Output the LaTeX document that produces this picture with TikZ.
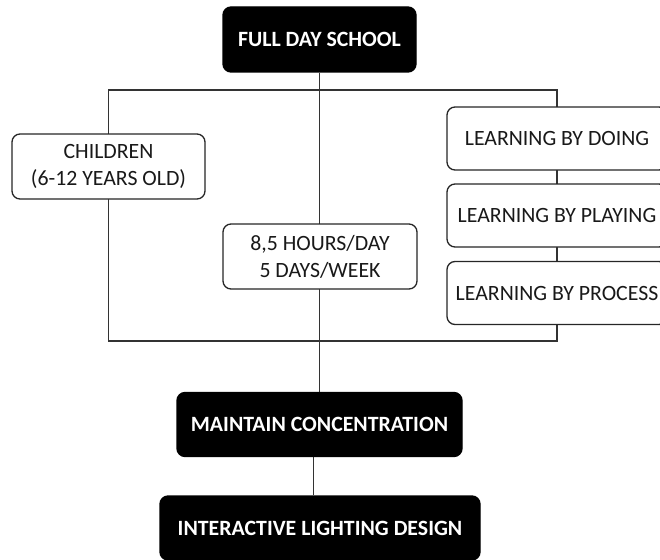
\documentclass[tikz,border=0pt]{standalone}
\usepackage{fontspec}
\setmainfont{Carlito}
\usetikzlibrary{backgrounds,calc}

\tikzset{
  base/.style={rectangle, rounded corners=8pt, line width=1.3pt, align=center,
    inner sep=0pt, font=\fontsize{21.8}{27}\selectfont},
  darkbox/.style={base, fill=black, draw=black, text=white,
    font=\fontsize{21.8}{27}\selectfont\bfseries},
  lightbox/.style={base, fill=white, draw=black!85, text=black!90},
  link/.style={line width=1.3pt, draw=black!80}
}

\begin{document}
\begin{tikzpicture}[x=1pt, y=-1pt]
  \useasboundingbox (0,0) rectangle (660,559);

  % top and bottom levels
  \node[darkbox, minimum width=193pt, minimum height=65pt] (fds) at (319.5,39.5) {FULL DAY SCHOOL};
  \node[darkbox, minimum width=285pt, minimum height=64pt] (maintain) at (319.5,424.5) {MAINTAIN CONCENTRATION};
  \node[darkbox, minimum width=320pt, minimum height=64pt] (interactive) at (320,528) {INTERACTIVE LIGHTING DESIGN};

  % middle level
  \node[lightbox, minimum width=193pt, minimum height=65pt] (children) at (108.5,166.5) {CHILDREN\\(6-12 YEARS OLD)};
  \node[lightbox, minimum width=194pt, minimum height=65pt] (hours) at (320,256.5) {8,5 HOURS/DAY\\5 DAYS/WEEK};
  \node[lightbox, minimum width=220pt, minimum height=63pt] (doing) at (557,138.5) {LEARNING BY DOING};
  \node[lightbox, minimum width=220pt, minimum height=63pt] (playing) at (557,215.5) {LEARNING BY PLAYING};
  \node[lightbox, minimum width=220pt, minimum height=63pt] (process) at (557,293) {LEARNING BY PROCESS};

  % corners of the frame joining the middle level
  \coordinate (tl) at (children.center |- 0,90);
  \coordinate (tr) at (doing.center |- 0,90);
  \coordinate (bl) at (children.center |- 0,341);
  \coordinate (br) at (doing.center |- 0,341);

  \begin{scope}[on background layer]
    \draw[link] (tl) -- (tr) -- (br) -- (bl) -- cycle;
    \draw[link] (fds.south) -- (maintain.north);
    \draw[link] ($(maintain.south)+(-6,0)$) -- ($(interactive.north)+(-6.5,0)$);
  \end{scope}
\end{tikzpicture}
\end{document}
